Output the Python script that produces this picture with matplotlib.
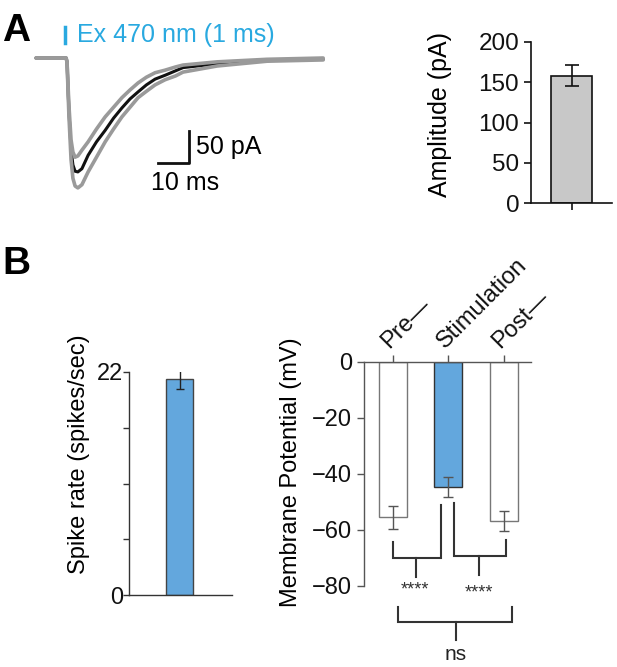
import matplotlib
matplotlib.use("Agg")
import matplotlib.pyplot as plt

plt.rcParams["font.family"] = ["Liberation Sans", "DejaVu Sans"]

# --- panel A: averaged light-evoked current ---
trace_t = [0, 9.7, 10.0, 10.6, 11.3, 11.9, 12.6, 13.5, 14.8, 16.8, 19.5, 22.3,
           25.0, 27.7, 30.3, 32.9, 35.6, 38.4, 41.6, 45.0, 47.4, 58.4, 74.5, 92.6]
trace_mean = [0, 0, -6, -81, -144, -167, -177, -178, -173, -152, -131, -113,
              -94, -78, -64, -53, -42, -33, -27, -20, -15, -9, -3, -2]
trace_upper = [0, 0, -6, -73, -128, -147, -155, -153, -144, -131, -111, -92,
               -77, -62, -50, -39, -30, -23, -19, -14, -11, -6, -2, 0]
trace_lower = [0, 0, -6, -89, -159, -188, -200, -203, -198, -178, -155, -131,
               -111, -92, -77, -62, -52, -42, -34, -28, -22, -12.5, -5, -3]

amp_mean = 158
amp_err = 13

# --- panel B ---
spike_rate = 21.3
spike_err = 1.0

vm_labels = ["Pre\u2014", "Stimulation", "Post\u2014"]
vm_means = [-55.4, -44.6, -56.8]
vm_errs = [4.1, 3.6, 3.7]

W, H = 617, 667
BLUE = "#63a7dd"
STIM_BLUE = "#29a9e0"
FS = 17


def px_axes(fig, left, top, right, bottom):
    return fig.add_axes([left / W, 1 - bottom / H, (right - left) / W, (bottom - top) / H])


fig = plt.figure(figsize=(W / 100, H / 100), dpi=100)

# trace
ax = px_axes(fig, 30, 20, 330, 200)
ax.plot(trace_t, trace_mean, color="#111111", lw=2.2, solid_capstyle="round")
ax.plot(trace_t, trace_upper, color="#9a9a9a", lw=2.6, solid_capstyle="round")
ax.plot(trace_t, trace_lower, color="#9a9a9a", lw=2.6, solid_capstyle="round")
ax.set_xlim(-1.94, 94.8)
ax.set_ylim(-221.9, 59.4)
ax.axis("off")
ax.plot([9.4, 9.4], [24, 49], color=STIM_BLUE, lw=2.5)
ax.text(13.2, 36, "Ex 470 nm (1 ms)", color=STIM_BLUE, fontsize=18, va="center", ha="left")
ax.plot([39.4, 49.4, 49.4], [-164, -164, -114], color="#111111", lw=2)
ax.text(51.6, -139, "50 pA", fontsize=18, va="center", ha="left")
ax.text(48, -196, "10 ms", fontsize=18, va="center", ha="center")

fig.text(2 / W, 1 - 13 / H, "A", fontsize=28, fontweight="bold", va="top", ha="left")
fig.text(2 / W, 1 - 246 / H, "B", fontsize=28, fontweight="bold", va="top", ha="left")

# amplitude bar
ax = px_axes(fig, 531, 42, 612, 203)
ax.bar([0], [amp_mean], width=1.0, color="#c8c8c8", edgecolor="#111111", lw=1.2)
ax.errorbar([0], [amp_mean], yerr=[amp_err], color="#111111", lw=1.2, capsize=5, capthick=1.2)
ax.set_xlim(-1.0, 1.0)
ax.set_ylim(0, 200)
ax.set_yticks([0, 50, 100, 150, 200])
ax.set_xticks([0])
ax.set_xticklabels([""])
for s in ("top", "right"):
    ax.spines[s].set_visible(False)
for s in ("left", "bottom"):
    ax.spines[s].set_linewidth(1.2)
    ax.spines[s].set_color("#111111")
ax.tick_params(labelsize=17.5, length=5, width=1.2, colors="#111111")
ax.set_ylabel("Amplitude (pA)", fontsize=18)
ax.yaxis.set_label_coords(-0.975, 0.55)

# spike rate
ax = px_axes(fig, 129, 372, 232, 595)
ax.bar([0], [spike_rate], width=1.0, color=BLUE, edgecolor="#444444", lw=1)
ax.errorbar([0], [spike_rate], yerr=[spike_err], color="#222222", lw=1, capsize=3, capthick=1)
ax.set_xlim(-1.87, 1.94)
ax.set_ylim(0, 22)
ax.set_yticks([0, 5.5, 11, 16.5, 22])
ax.set_yticklabels(["0", "", "", "", "22"])
ax.set_xticks([])
for s in ("top", "right"):
    ax.spines[s].set_visible(False)
for s in ("left", "bottom"):
    ax.spines[s].set_linewidth(1)
    ax.spines[s].set_color("#333333")
ax.tick_params(labelsize=FS, length=4, width=1, pad=0, colors="#333333")
ax.tick_params(labelcolor="#111111")
ax.set_ylabel("Spike rate (spikes/sec)", fontsize=FS)
ax.yaxis.set_label_coords(-0.38, 0.63)

# membrane potential
ax = px_axes(fig, 364, 362, 531, 586)
xs = list(range(len(vm_means)))
ax.bar(xs, vm_means, width=0.5, color=["white", BLUE, "white"],
       edgecolor=["#777777", "#333333", "#777777"], lw=1)
ax.errorbar(xs, vm_means, yerr=vm_errs, fmt="none", ecolor="#555555", elinewidth=1,
            capsize=3.5, capthick=1)
ax.set_xlim(-0.52, 2.49)
ax.set_ylim(-80, 0)
ax.set_yticks([0, -20, -40, -60, -80])
ax.xaxis.tick_top()
ax.set_xticks(xs)
ax.set_xticklabels(vm_labels, rotation=45, ha="left", va="bottom", rotation_mode="anchor")
for s in ("bottom", "right"):
    ax.spines[s].set_visible(False)
for s in ("left", "top"):
    ax.spines[s].set_linewidth(1)
    ax.spines[s].set_color("#555555")
ax.tick_params(labelsize=FS, length=5, width=1, colors="#555555", labelcolor="#111111")
ax.tick_params(axis="x", pad=2)
ax.set_ylabel("Membrane Potential (mV)", fontsize=FS)
ax.yaxis.set_label_coords(-0.371, 0.51)

bk = dict(color="#333333", lw=1.5, clip_on=False, solid_joinstyle="miter")
ax.plot([0.0, 0.0, 0.865, 0.865], [-64.3, -70, -70, -51], **bk)
ax.plot([0.41, 0.41], [-70, -76.8], **bk)
ax.text(0.40, -81.5, "****", fontsize=13, ha="center", va="center", color="#333333")
ax.plot([1.1, 1.1, 2.04, 2.04], [-50.4, -69.3, -69.3, -63.6], **bk)
ax.plot([1.55, 1.55], [-69.3, -76], **bk)
ax.text(1.55, -82.5, "****", fontsize=13, ha="center", va="center", color="#333333")
ax.plot([0.09, 0.09, 2.14, 2.14], [-87.5, -92.9, -92.9, -87.5], **bk)
ax.plot([1.13, 1.13], [-92.9, -99.3], **bk)
ax.text(1.13, -104.6, "ns", fontsize=15, ha="center", va="center", color="#222222")

fig.savefig("out.png", dpi=100)
